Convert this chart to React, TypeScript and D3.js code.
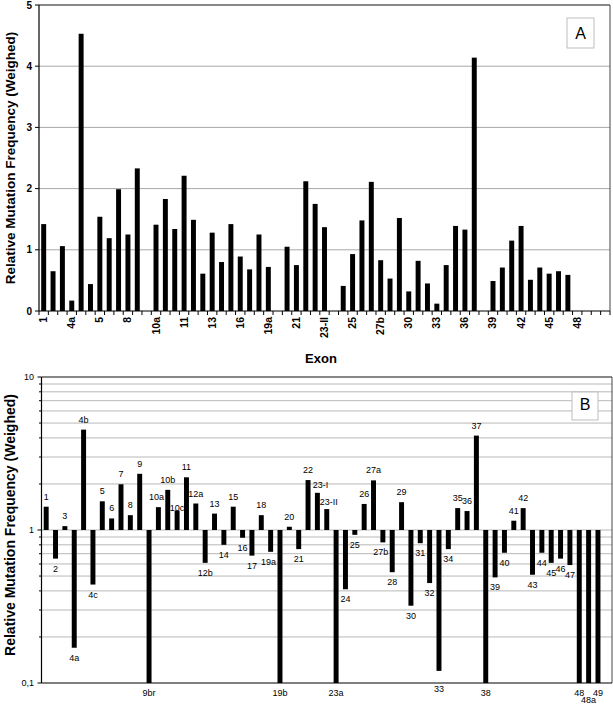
import React from "react";
import * as d3 from "d3";

// ---- data ----
const exons = [
  "1", "2", "3", "4a", "4b", "4c", "5", "6", "7", "8", "9", "9br", "10a", "10b", "10c", "11",
  "12a", "12b", "13", "14", "15", "16", "17", "18", "19a", "19b", "20", "21", "22", "23-I",
  "23-II", "23a", "24", "25", "26", "27a", "27b", "28", "29", "30", "31", "32", "33", "34",
  "35", "36", "37", "38", "39", "40", "41", "42", "43", "44", "45", "46", "47", "48", "48a", "49",
];
const relFreq = [
  1.42, 0.65, 1.06, 0.17, 4.53, 0.44, 1.54, 1.19, 1.99, 1.25, 2.33, 0, 1.41, 1.83, 1.34, 2.21,
  1.49, 0.61, 1.28, 0.8, 1.42, 0.89, 0.68, 1.25, 0.72, 0, 1.05, 0.75, 2.12, 1.75,
  1.37, 0, 0.41, 0.93, 1.48, 2.11, 0.83, 0.53, 1.52, 0.32, 0.82, 0.45, 0.12, 0.75,
  1.39, 1.33, 4.14, 0, 0.49, 0.71, 1.15, 1.39, 0.51, 0.71, 0.61, 0.65, 0.59, 0, 0, 0,
];
const axisLabelsA = ["1", "4a", "5", "8", "10a", "11", "13", "16", "19a", "21", "23-II", "25", "27b", "30", "33", "36", "39", "42", "45", "48"];
const yTicksA = [0, 1, 2, 3, 4, 5];
const yTicksB = [0.1, 1, 10];
const yTickLabelsB = ["0,1", "1", "10"];
const yTitle = "Relative Mutation Frequency (Weighed)";
const xTitle = "Exon";
const panelA = "A";
const panelB = "B";

// label nudges (layout only)
const labelNudge: Record<string, [number, number]> = {
  "10a": [-2, 0], "10c": [0, 7], "19a": [-2, 0], "23-I": [3, 2], "23-II": [2, 3],
  "27b": [-2, 0], "33": [0, 8], "48a": [0, 6.5],
};

const FONT = "'Liberation Sans', Arial, Helvetica, sans-serif";

export default function App() {
  const W = 613, H = 704;
  const slots = [...exons, "__end"];

  // Panel A
  const xA = d3.scaleBand<string>().domain(slots).range([39, 610]).paddingInner(0.47).paddingOuter(0.235);
  const yA = d3.scaleLinear().domain([0, 5]).range([311, 5]);
  const stepA = xA.step();

  // Panel B
  const xB = d3.scaleBand<string>().domain(slots).range([41.5, 612]).paddingInner(0.47).paddingOuter(0.235);
  const yB = d3.scaleLog().domain([0.1, 10]).range([683, 377]);
  const gridB = yB.ticks().filter((t) => t > 0.1001 && t < 9.99);
  const minorB = yB.ticks();

  const data = exons.map((e, i) => ({ e, v: relFreq[i] }));

  return (
    <svg width={W} height={H} style={{ position: "absolute", left: 0, top: 0, background: "#fff" }} fontFamily={FONT}>
      <rect x={0} y={0} width={W} height={H} fill="#fff" />
      {/* ===== Panel A ===== */}
      {yTicksA.filter((t) => t > 0 && t < 5).map((t) => (
        <line key={"ga" + t} x1={39} x2={610} y1={yA(t)} y2={yA(t)} stroke="#a8a8a8" strokeWidth={1} />
      ))}
      <line x1={39} x2={610} y1={yA(5)} y2={yA(5)} stroke="#111" strokeWidth={1.2} />
      <line x1={610} x2={610} y1={yA(5)} y2={yA(0)} stroke="#444" strokeWidth={1} />
      {data.filter((d) => d.v > 0).map((d) => (
        <rect key={"ba" + d.e} x={xA(d.e)!} width={xA.bandwidth()} y={yA(d.v)} height={yA(0) - yA(d.v)} fill="#000" />
      ))}
      <line x1={39} x2={39} y1={yA(5)} y2={yA(0)} stroke="#000" strokeWidth={1.2} />
      <line x1={39} x2={610} y1={yA(0)} y2={yA(0)} stroke="#000" strokeWidth={1.2} />
      {d3.range(slots.length + 1).map((i) => (
        <line key={"xt" + i} x1={39 + i * stepA} x2={39 + i * stepA} y1={yA(0)} y2={yA(0) + 4} stroke="#000" strokeWidth={1} />
      ))}
      {yTicksA.map((t) => (
        <g key={"yta" + t}>
          <line x1={35} x2={39} y1={yA(t)} y2={yA(t)} stroke="#000" />
          <text x={32} y={yA(t)} dy="0.35em" textAnchor="end" fontSize={10} fontWeight="bold">{t}</text>
        </g>
      ))}
      {axisLabelsA.map((l) => (
        <text key={"xla" + l} transform={`translate(${xA(l)! + xA.bandwidth() / 2 + 3.5},317) rotate(-90)`} textAnchor="end" fontSize={10.5} fontWeight="bold">{l}</text>
      ))}
      <text transform="translate(15,158) rotate(-90)" textAnchor="middle" fontSize={13.5} fontWeight="bold">{yTitle}</text>
      <text x={321} y={363} textAnchor="middle" fontSize={13} fontWeight="bold">{xTitle}</text>
      <rect x={567} y={18} width={27} height={30} fill="#fff" stroke="#bdbdbd" />
      <text x={580.5} y={38.5} textAnchor="middle" fontSize={16}>{panelA}</text>

      {/* ===== Panel B ===== */}
      {gridB.map((t) => (
        <line key={"gb" + t} x1={41.5} x2={612} y1={yB(t)} y2={yB(t)} stroke="#b8b8b8" strokeWidth={1} />
      ))}
      <line x1={41.5} x2={612} y1={yB(10)} y2={yB(10)} stroke="#111" strokeWidth={1.2} />
      <line x1={612} x2={612} y1={yB(10)} y2={yB(0.1)} stroke="#444" strokeWidth={1} />
      {data.map((d) => {
        const v = Math.max(d.v, 0.1);
        const y0 = yB(1), y1 = yB(v);
        return (
          <rect key={"bb" + d.e} x={xB(d.e)!} width={xB.bandwidth()} y={Math.min(y0, y1)} height={Math.abs(y1 - y0)} fill="#000" />
        );
      })}
      <line x1={41.5} x2={41.5} y1={yB(10)} y2={yB(0.1)} stroke="#000" strokeWidth={1.2} />
      <line x1={41.5} x2={612} y1={yB(0.1)} y2={yB(0.1)} stroke="#000" strokeWidth={1.2} />
      {minorB.map((t) => (
        <line key={"mt" + t} x1={yTicksB.includes(t) ? 37.5 : 39} x2={41.5} y1={yB(t)} y2={yB(t)} stroke="#000" strokeWidth={1} />
      ))}
      {yTicksB.map((t, i) => (
        <text key={"ytb" + t} x={34} y={yB(t)} dy="0.35em" textAnchor="end" fontSize={9}>{yTickLabelsB[i]}</text>
      ))}
      {data.map((d) => {
        const v = Math.max(d.v, 0.1);
        const [dx, dy] = labelNudge[d.e] || [0, 0];
        const cx = xB(d.e)! + xB.bandwidth() / 2 + dx;
        const y = v >= 1 ? yB(v) - 7 : yB(v) + 13;
        return (
          <text key={"lb" + d.e} x={cx} y={y + dy} textAnchor="middle" fontSize={9}>{d.e}</text>
        );
      })}
      <text transform="translate(15,525) rotate(-90)" textAnchor="middle" fontSize={14} fontWeight="bold">{yTitle}</text>
      <rect x={572} y={392} width={26} height={28} fill="#fff" stroke="#bdbdbd" />
      <text x={585} y={409.5} textAnchor="middle" fontSize={16}>{panelB}</text>
    </svg>
  );
}
